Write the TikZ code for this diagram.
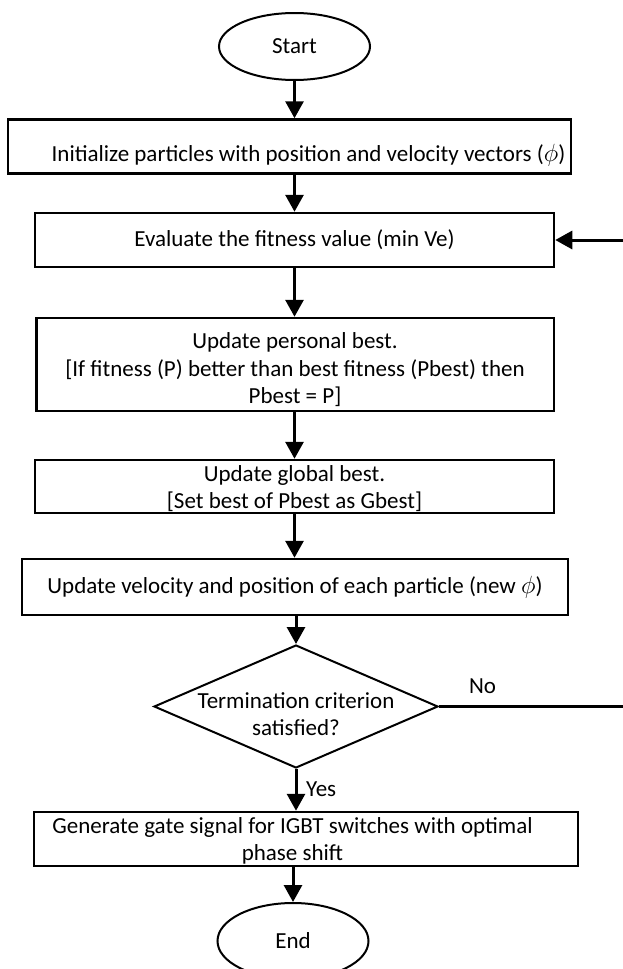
\documentclass[tikz,border=0pt]{standalone}
\usepackage{fontspec}
\setmainfont{Carlito}
\usetikzlibrary{shapes.geometric,arrows.meta}
\begin{document}
\begin{tikzpicture}[x=1pt,y=-1pt,
  box/.style={draw,line width=2.5pt,rectangle,inner sep=0pt},
  term/.style={draw,ellipse,line width=2pt,inner sep=0pt,minimum width=151pt,minimum height=67pt},
  txt/.style={font={\fontsize{23}{27.5}\selectfont},align=center,inner sep=0pt},
  arr/.style={line width=3pt,-{Triangle[length=17pt,width=18pt]}},
  lbl/.style={font={\fontsize{23}{27}\selectfont},inner sep=0pt}
  ]
\useasboundingbox (0,0) rectangle (623,969);
% nodes
\node[term,txt] (start) at (294.5,46.5) {Start};
\node[box,minimum width=563pt,minimum height=54pt] (init) at (289.5,146.5) {};
\node[txt] (initt) at (308.5,155) {Initialize particles with position and velocity vectors ($\phi$)};
\node[box,txt,minimum width=519pt,minimum height=54pt] (eval) at (294.5,240) {Evaluate the fitness value (min Ve)};
\node[box,minimum width=517.5pt,minimum height=93pt] (pb) at (295.25,364.5) {};
\node[txt] (pbt) at (295,370) {Update personal best.\\{}[If fitness (P) better than best fitness (Pbest) then\\Pbest = P]};
\node[box,minimum width=519pt,minimum height=53pt] (gb) at (294.5,486.5) {};
\node[txt] (gbt) at (294.5,488.5) {Update global best.\\{}[Set best of Pbest as Gbest]};
\node[box,txt,minimum width=546pt,minimum height=56pt] (uv) at (295,587) {Update velocity and position of each particle (new $\phi$)};
\node[draw,diamond,line width=2pt,inner sep=0pt,minimum width=284pt,minimum height=123pt,aspect=2.31] (dec) at (296,706.5) {};
\node[txt] (dect) at (296,714) {Termination criterion\\satisfied?};
\node[box,minimum width=544pt,minimum height=54pt] (gen) at (306,839) {};
\node[txt] (gent) at (292.5,841) {Generate gate signal for IGBT switches with optimal\\phase shift};
\node[term,txt,minimum height=76pt] (end) at (293,941) {End};
\node[lbl] (no) at (482.5,686) {No};
\node[lbl,anchor=west] (yes) at (306,789) {Yes};
% connectors
\draw[arr] (start.south) -- (start.south |- init.north);
\draw[arr] (eval.north |- init.south) -- (eval.north);
\draw[arr] (eval.south) -- (eval.south |- pb.north);
\draw[arr] (eval.south |- pb.south) -- (eval.south |- gb.north);
\draw[arr] (eval.south |- gb.south) -- (eval.south |- uv.north);
\draw[arr] (dec.north |- uv.south) -- (dec.north);
\draw[arr] (dec.south) -- (dec.south |- gen.north);
\draw[arr] (end.north |- gen.south) -- (end.north);
\draw[arr] (dec.east) -- (626,706.5) |- (eval.east);
\end{tikzpicture}
\end{document}
